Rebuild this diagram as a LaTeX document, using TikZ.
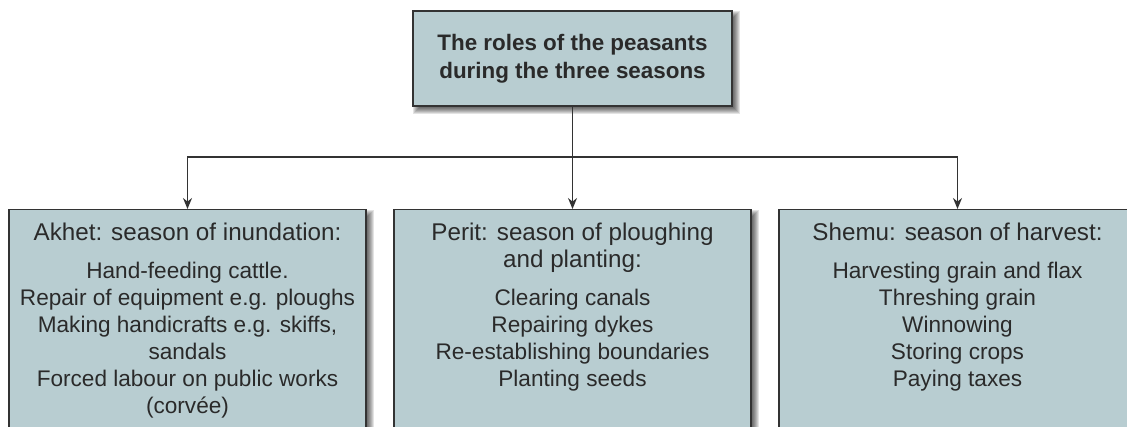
\documentclass[tikz,border=0pt]{standalone}
\usepackage{fontspec}
\setmainfont{Liberation Sans}
\usetikzlibrary{arrows.meta,calc,backgrounds}
\definecolor{boxfill}{HTML}{B8CDD1}
\definecolor{ink}{HTML}{2A2A2A}
\definecolor{edge}{HTML}{333333}
\newcommand\headfont{\fontsize{24.2}{27}\selectfont}
\begin{document}
\begin{tikzpicture}[x=1pt,y=-1pt,
  panel/.style={draw=edge, line width=1.5pt, fill=boxfill, inner sep=0pt},
  season/.style={panel, anchor=north, minimum width=357pt, minimum height=260pt},
  listtext/.style={anchor=north, inner sep=0pt, align=center, text=ink,
    font=\fontsize{22.6}{27}\selectfont},
  link/.style={draw=edge, line width=1.3pt},
  arrowlink/.style={link, -{Stealth[length=11pt,width=9pt]}}]
\useasboundingbox (0,0) rectangle (1127,427);

% title box
\node[panel, minimum width=319pt, minimum height=95pt, align=center, text=ink,
  font=\bfseries\fontsize{22.4}{28}\selectfont] (top) at (572.5,58.5)
  {The roles of the peasants\\during the three seasons};

% the three season boxes
\node[season] (akhet) at (187.5,209) {};
\node[season] (perit) at (572.5,209) {};
\node[season] (shemu) at (957.5,209) {};

\node[listtext] (akhettext) at (187.5,223)
  {{\headfont Akhet: season of inundation:}\\[11pt]Hand-feeding cattle.\\Repair of equipment e.g. ploughs\\Making handicrafts e.g. skiffs,\\sandals\\Forced labour on public works\\(corvée)};
\node[listtext] (perittext) at (572.5,223)
  {{\headfont Perit: season of ploughing}\\{\headfont and planting:}\\[11pt]Clearing canals\\Repairing dykes\\Re-establishing boundaries\\Planting seeds};
\node[listtext] (shemutext) at (957.5,223)
  {{\headfont Shemu: season of harvest:}\\[11pt]Harvesting grain and flax\\Threshing grain\\Winnowing\\Storing crops\\Paying taxes};

% connectors
\coordinate (hub) at (572.5,157);
\draw[arrowlink] (top.south) -- (perit.north);
\draw[arrowlink] (hub) -| (akhet.north);
\draw[arrowlink] (hub) -| (shemu.north);

% soft drop shadows, offset to the lower right
\begin{scope}[on background layer]
\foreach \n in {top,akhet,perit,shemu}{
  \foreach \r in {-3,...,3}{
    \fill[black, opacity=0.11] ($(\n.north west)+(4-\r,4-\r)$) rectangle ($(\n.south east)+(4+\r,4+\r)$);
  }
}
\end{scope}
\end{tikzpicture}
\end{document}
